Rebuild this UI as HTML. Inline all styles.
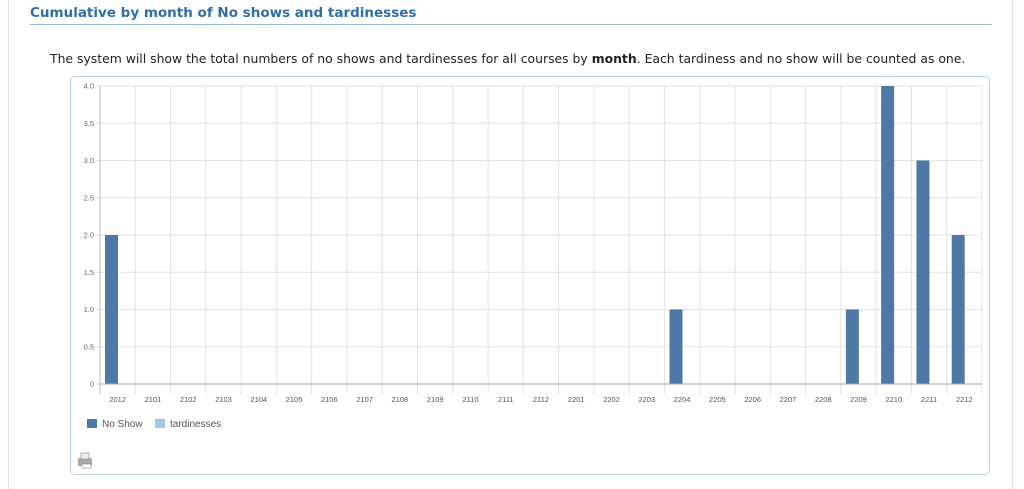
<!DOCTYPE html>
<html><head><meta charset="utf-8">
<style>
body{margin:0;width:1024px;height:489px;background:#fff;font-family:"Liberation Sans","DejaVu Sans",sans-serif;overflow:hidden;position:relative}
.side{position:absolute;top:0;bottom:0;width:1px;background:#d6e3f0}
h2{position:absolute;left:30px;top:5px;margin:0;font-size:13.5px;font-weight:bold;color:#2f6fa5;font-family:"DejaVu Sans",sans-serif}
.rule{position:absolute;left:30px;top:24px;width:962px;height:1px;background:#8fbbe0}
.desc{position:absolute;left:50px;top:51px;font-size:12.4px;color:#222;font-family:"DejaVu Sans",sans-serif;white-space:nowrap}
.box{position:absolute;left:70px;top:76px;width:918px;height:397px;border:1px solid #b8d3ec;border-radius:5px}
svg{position:absolute;left:0;top:0}
</style></head><body>
<div class="side" style="left:8px"></div><div class="side" style="left:1012px"></div>
<h2>Cumulative by month of No shows and tardinesses</h2>
<div class="rule"></div>
<div class="desc">The system will show the total numbers of no shows and tardinesses for all courses by <b>month</b>. Each tardiness and no show will be counted as one.</div>
<div class="box"></div>
<svg id="s" width="1024" height="489" xmlns="http://www.w3.org/2000/svg"></svg>
<script>
var s=document.getElementById('s'),h='';
var L=100,R=982,T=86,B=384,n=25,w=(R-L)/n;
var cats=['2012','2101','2102','2103','2104','2105','2106','2107','2108','2109','2110','2111','2112','2201','2202','2203','2204','2205','2206','2207','2208','2209','2210','2211','2212'];
var vals={0:2,16:1,21:1,22:4,23:3,24:2};
for(var i=0;i<=8;i++){var y=B-(B-T)*i/8;h+='<line x1="'+(L-4)+'" x2="'+R+'" y1="'+y+'" y2="'+y+'" stroke="#e3e3e3"/>';
h+='<text x="'+(L-6)+'" y="'+(y+2.5)+'" font-size="7.5" fill="#666" text-anchor="end">'+(i==0?'0':(i/2).toFixed(1))+'</text>';}
for(var i=0;i<=n;i++){var x=L+w*i;h+='<line x1="'+x+'" x2="'+x+'" y1="'+T+'" y2="'+(B+10)+'" stroke="#e3e3e3"/>';}
for(var i=0;i<n;i++){var x=L+w*i;h+='<text x="'+(x+w/2)+'" y="'+(B+18)+'" font-size="7.5" fill="#555" text-anchor="middle">'+cats[i]+'</text>';
if(vals[i]){var bh=(B-T)*vals[i]/4;h+='<rect x="'+(x+5)+'" y="'+(B-bh)+'" width="13" height="'+bh+'" fill="#4e79a7"/>';}}
h+='<line x1="'+L+'" x2="'+L+'" y1="'+T+'" y2="'+(B+10)+'" stroke="#bbb"/>';
h+='<line x1="'+L+'" x2="'+R+'" y1="'+B+'" y2="'+B+'" stroke="#aaa"/>';
h+='<rect x="87" y="419" width="10" height="9" fill="#4e79a7"/><text x="102" y="427" font-size="10" fill="#555">No Show</text>';
h+='<rect x="155" y="419" width="10" height="9" fill="#9fcbea"/><text x="170" y="427" font-size="10" fill="#555">tardinesses</text>';
h+='<rect x="78" y="458" width="14" height="8" fill="#aaa" rx="1"/><rect x="81" y="453" width="8" height="6" fill="#eee" stroke="#888" stroke-width=".6"/><rect x="82" y="464" width="9" height="4" fill="#fff" stroke="#888" stroke-width=".6"/>';
s.innerHTML=h;
</script>
</body></html>
